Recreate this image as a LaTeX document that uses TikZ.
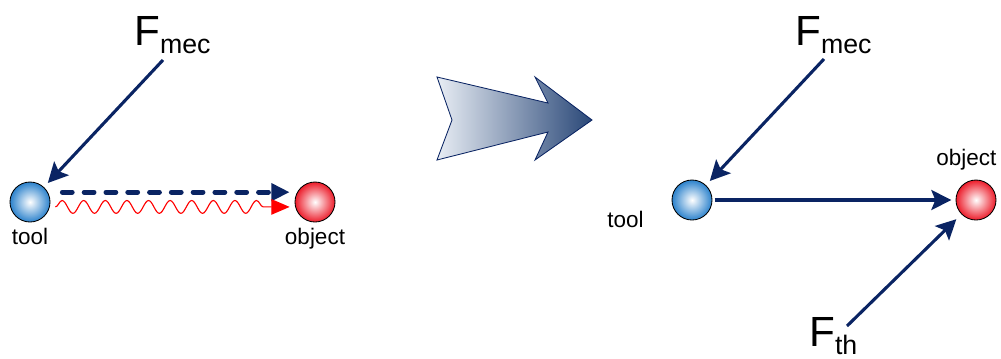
\documentclass[tikz,border=0pt]{standalone}
\usepackage{fontspec}
\setmainfont{Liberation Sans}
\usepackage{xcolor}
\usepackage{tikz}
\usetikzlibrary{arrows.meta, positioning, calc, decorations.pathmorphing}

\definecolor{navy}{HTML}{0A2463}
\definecolor{toolblue}{HTML}{2C82CC}
\definecolor{objred}{HTML}{EC1C2A}
\definecolor{arrlight}{HTML}{E8EDF4}
\definecolor{arrdark}{HTML}{2A4878}

\newcommand{\forcelbl}[2]{{\fontsize{30}{30}\selectfont #1}\raisebox{-6pt}{\fontsize{19}{19}\selectfont #2}}

\begin{document}
\begin{tikzpicture}[
  x=0.025cm, y=-0.025cm,
  ball/.style={circle, draw=black, line width=0.6pt, minimum size=1cm, inner sep=0pt},
  tball/.style={ball, inner color=white, outer color=toolblue},
  oball/.style={ball, inner color=white, outer color=objred},
  force/.style={draw=navy, line width=2.2pt, -{Stealth[length=5mm, width=5mm, inset=1mm]}},
  lbl/.style={font=\fontsize{16}{16}\selectfont, inner sep=0pt},
  flbl/.style={inner sep=0pt, anchor=base west}
]
  \useasboundingbox (0,0) rectangle (1001,358);

  % before
  \node[tball] (toolA) at (30,202) {};
  \node[oball] (objA) at (315,202) {};
  \node[lbl, below=0.13cm of toolA] (toolAlbl) {tool};
  \node[lbl, below=0.13cm of objA] (objAlbl) {object};
  \node[flbl] (fmecA) at (134,45) {\forcelbl{F}{mec}};
  \coordinate (fmecAtail) at (163,60);
  \draw[force, shorten >=4pt] (fmecAtail) -- (toolA);

  \draw[navy, line width=3.5pt, line cap=round, dash pattern=on 7pt off 8.5pt,
        -{Triangle[length=13pt, width=12pt]}]
    ([xshift=8.5pt, yshift=7pt]toolA.east) -- ([xshift=-3.5pt, yshift=7pt]objA.west);
  \draw[red, line width=0.8pt, decorate,
        decoration={snake, segment length=0.54cm, amplitude=0.16cm, post length=13pt},
        -{Triangle[length=13pt, width=11pt]}]
    ([xshift=3.5pt, yshift=-3.5pt]toolA.east) -- ([xshift=-3.5pt, yshift=-3.5pt]objA.west);

  % big arrow
  \draw[navy, line width=0.6pt, left color=arrlight, right color=arrdark]
    (437,77) -- (548,103) -- (535,77) -- (592,120) -- (535,160) -- (548,132)
    -- (437,160) -- (452,120) -- cycle;

  % after
  \node[tball] (toolB) at (692,200) {};
  \node[oball] (objB) at (976,200) {};
  \node[lbl, anchor=base west] (toolBlbl) at (607,227) {tool};
  \node[lbl, anchor=base west] (objBlbl) at (936,165) {object};
  \node[flbl] (fmecB) at (795,45) {\forcelbl{F}{mec}};
  \node[flbl] (fth) at (809,346) {\forcelbl{F}{th}};
  \coordinate (fmecBtail) at (824,59);
  \coordinate (fthtail) at (847,326);
  \draw[force, shorten >=4pt] (fmecBtail) -- (toolB);
  \draw[force, shorten >=5pt] (fthtail) -- (objB);
  \draw[force, shorten <=1.5pt, shorten >=3pt] (toolB) -- (objB);
\end{tikzpicture}
\end{document}
